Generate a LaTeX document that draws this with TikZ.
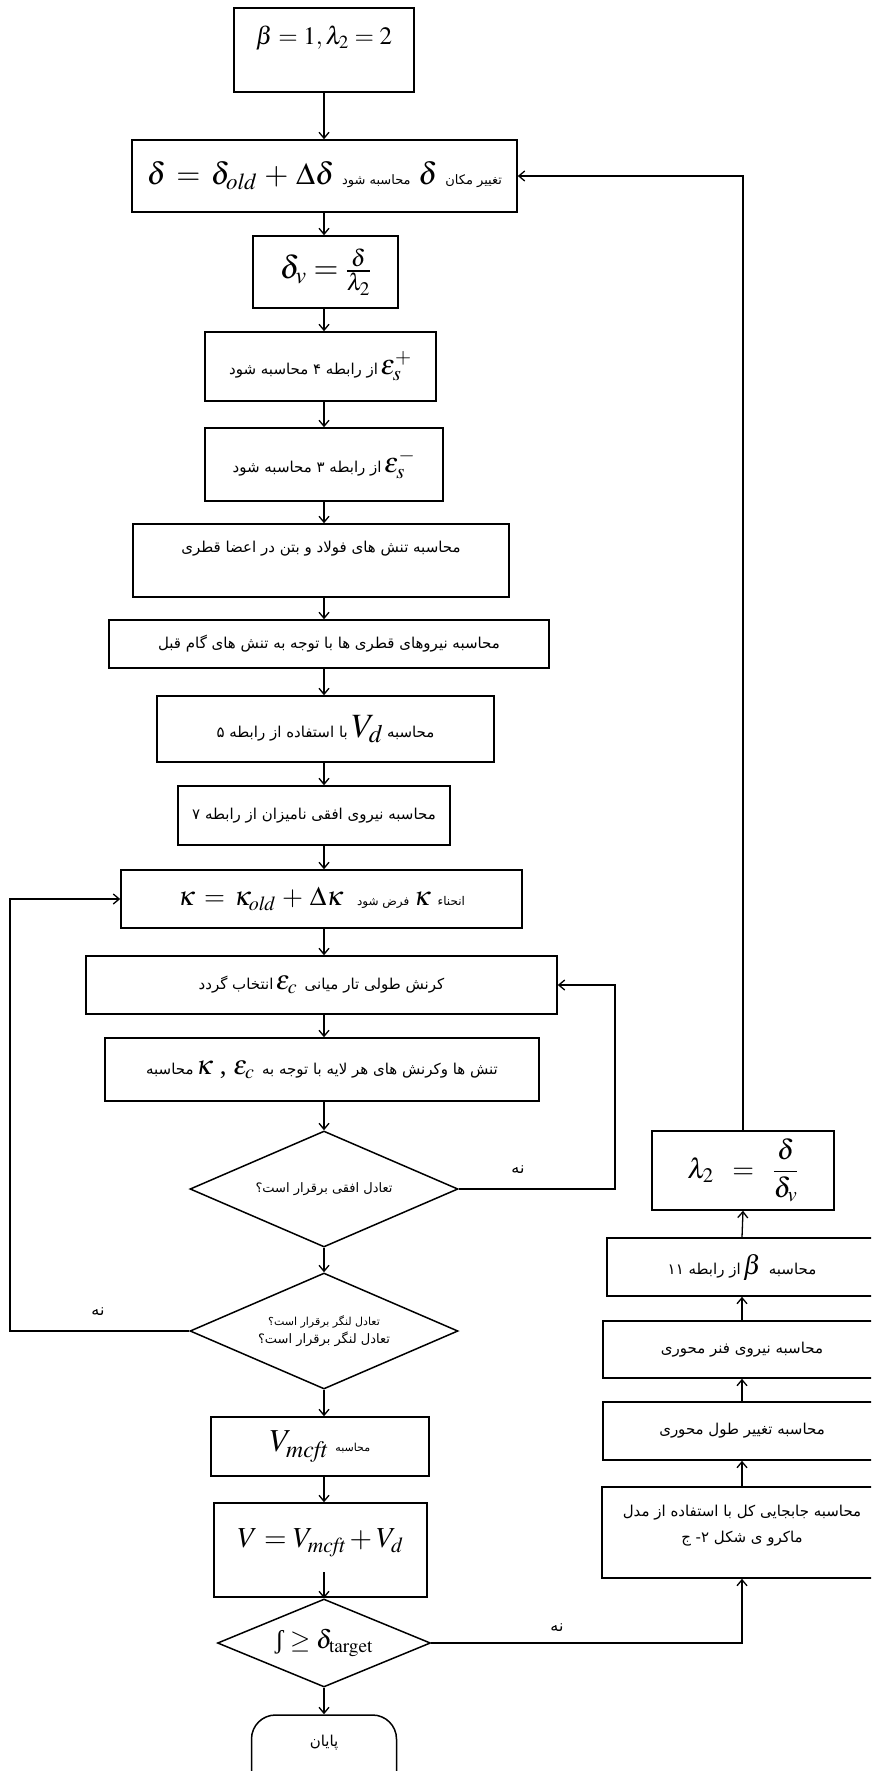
\documentclass[tikz,border=0pt]{standalone}
\usepackage{mathptmx}
\usepackage[no-math]{fontspec}
\setmainfont{Liberation Serif}
\newfontfamily\fafont[Script=Arabic]{DejaVu Sans}
\TeXXeTstate=1
\usetikzlibrary{arrows.meta,shapes.geometric}
\newcommand{\fatext}[1]{{\fafont\beginR #1\endR}}
\newcommand{\msz}[1]{\fontsize{#1}{#1}\selectfont}
\begin{document}
\begin{tikzpicture}[x=1pt,y=-1pt,
  box/.style={draw, line width=1.5pt, inner sep=0pt, align=center, font=\msz{15}},
  dia/.style={draw, diamond, line width=1.5pt, inner sep=0pt, align=center, font=\msz{13}},
  arr/.style={line width=1.3pt, -{Straight Barb[length=6pt,width=10pt,line width=1.3pt]}},
  txt/.style={inner sep=0pt, align=center, font=\msz{15}},
]
\useasboundingbox (0,0) rectangle (871,1771);
\clip (0,0) rectangle (871,1771);
\fill[white] (0,0) rectangle (871,1771);
\coordinate (mx) at (324,0);
\coordinate (ll) at (10,0);
\coordinate (rl) at (615,0);

% main column
\node[box, minimum width=180pt, minimum height=84pt] (b1) at (324,50) {};
\node[txt] (t1) at (324,38) {\msz{25}$\beta = 1, \lambda_2 = 2$};

\node[box, minimum width=385pt, minimum height=72pt] (b2) at (324.5,176)
  {\msz{31}$\delta \,=\, \delta_{\mathit{old}} \,+\, \Delta\delta$\ {\msz{13}\fatext{محاسبه شود}}\ $\delta$\ {\msz{13}\fatext{تغییر مکان}}};

\node[box, minimum width=145pt, minimum height=72pt] (b3) at (325.5,272)
  {\msz{32}$\delta_v = \frac{\delta}{\lambda_2}$};

\node[box, minimum width=231pt, minimum height=69pt] (b4) at (320.5,366.5)
  {\fatext{از رابطه ۴ محاسبه شود}\,{\msz{28}$\varepsilon_s^{+}$}};

\node[box, minimum width=238pt, minimum height=73pt] (b5) at (324,464.5)
  {\fatext{از رابطه ۳ محاسبه شود}\,{\msz{28}$\varepsilon_s^{-}$}};

\node[box, minimum width=376pt, minimum height=73pt] (b6) at (321,560.5) {};
\node[txt] (t6) at (321,549) {\fatext{محاسبه تنش های فولاد و بتن در اعضا قطری}};

\node[box, minimum width=440pt, minimum height=48pt] (b7) at (329,644)
  {\fatext{محاسبه نیروهای قطری ها با توجه به تنش های گام قبل}};

\node[box, minimum width=337pt, minimum height=66pt] (b8) at (325.5,729)
  {\fatext{با استفاده از رابطه ۵}\ {\msz{34}$V_d$}\ \fatext{محاسبه}};

\node[box, minimum width=272pt, minimum height=59pt] (b9) at (314,815.5)
  {\fatext{محاسبه نیروی افقی نامیزان از رابطه ۷}};

\node[box, minimum width=401pt, minimum height=58pt] (b10) at (321.5,899)
  {\msz{27}$\kappa \,=\, \kappa_{\mathit{old}} \,+\, \Delta\kappa$\ \ {\msz{12}\fatext{فرض شود}}\,$\kappa$\ {\msz{12}\fatext{انحناء}}};

\node[box, minimum width=471pt, minimum height=58pt] (b11) at (321.5,985)
  {\fatext{انتخاب گردد}\,{\msz{27}$\varepsilon_c$}\ \ \fatext{کرنش طولی تار میانی}};

\node[box, minimum width=434pt, minimum height=63pt] (b12) at (322,1069.5)
  {\fatext{محاسبه}\,{\msz{27}$\kappa$\ ,\ $\varepsilon_c$}\ \ \fatext{تنش ها وکرنش های هر لایه با توجه به}};

\node[dia, aspect=2.31, minimum width=268pt, minimum height=116pt] (d1) at (324,1189)
  {\fatext{تعادل افقی برقرار است؟}};

\node[dia, aspect=2.31, minimum width=268pt, minimum height=116pt] (d2) at (324,1331)
  {{\msz{11}\fatext{تعادل لنگر برقرار است؟}}\\[3pt]{\msz{13}\fatext{تعادل لنگر برقرار است؟}}};

\node[box, minimum width=218pt, minimum height=59pt] (b13) at (320,1446.5)
  {{\msz{32}$V_{\mathit{mcft}}$}\ \ {\msz{11}\fatext{محاسبه}}};

\node[box, minimum width=213pt, minimum height=94pt] (b14) at (320.5,1550) {};
\node[txt] (t14) at (320.5,1543) {\msz{29}$V = V_{\mathit{mcft}} + V_d$};
\coordinate (b14s) at (324,1572);

\node[dia, aspect=2.42, minimum width=213pt, minimum height=88pt] (d3) at (324,1643)
  {\msz{26}ʃ $\geq \delta_{\mathrm{target}}$};

\node[draw, line width=1.5pt, rounded corners=24pt, minimum width=145pt, minimum height=110pt] (end) at (324,1770) {};
\node[txt] (tend) at (324,1743) {\fatext{پایان}};

% right column
\node[box, minimum width=182pt, minimum height=79pt] (r1) at (743,1170.5)
  {\msz{28}$\lambda_2 \;\;=\;\; \displaystyle\frac{\delta}{\delta_v}$};
\node[box, minimum width=270pt, minimum height=58pt] (r2) at (742,1267)
  {\fatext{از رابطه ۱۱}\,{\msz{27}$\beta$}\ \ \fatext{محاسبه}};
\node[box, minimum width=278pt, minimum height=57pt] (r3) at (742,1349.5)
  {\fatext{محاسبه نیروی فنر محوری}};
\node[box, minimum width=278pt, minimum height=58pt] (r4) at (742,1431)
  {\fatext{محاسبه تغییر طول محوری}};
\node[box, minimum width=280pt, minimum height=91pt] (r5) at (742,1532.5) {};
\node[txt] (t5) at (742,1526) {\fatext{محاسبه جابجایی کل با استفاده از مدل}\\[10pt]\fatext{ماکرو ی شکل ۲- ج}};

% labels
\node[txt, font=\msz{16}] (no1) at (518,1170) {\fatext{نه}};
\node[txt, font=\msz{16}] (no2) at (98,1312) {\fatext{نه}};
\node[txt, font=\msz{16}] (no3) at (557,1628) {\fatext{نه}};

% main arrows
\draw[arr] (b1.south -| mx) -- (b2.north -| mx);
\draw[arr] (b2.south -| mx) -- (b3.north -| mx);
\draw[arr] (b3.south -| mx) -- (b4.north -| mx);
\draw[arr] (b4.south -| mx) -- (b5.north -| mx);
\draw[arr] (b5.south -| mx) -- (b6.north -| mx);
\draw[arr] (b6.south -| mx) -- (b7.north -| mx);
\draw[arr] (b7.south -| mx) -- (b8.north -| mx);
\draw[arr] (b8.south -| mx) -- (b9.north -| mx);
\draw[arr] (b9.south -| mx) -- (b10.north -| mx);
\draw[arr] (b10.south -| mx) -- (b11.north -| mx);
\draw[arr] (b11.south -| mx) -- (b12.north -| mx);
\draw[arr] (b12.south -| mx) -- (d1.north);
\draw[arr] (d1.south) -- (d2.north);
\draw[arr] (d2.south) -- (b13.north -| mx);
\draw[arr] (b13.south -| mx) -- (b14.north -| mx);
\draw[arr] (b14s) -- (d3.north);
\draw[arr] (d3.south) -- (end.north);

% loops
\draw[arr] (d1.east) -- (d1.east -| rl) |- (b11.east);
\draw[arr] (d2.west) -- (d2.west -| ll) |- (b10.west);
\draw[arr] (d3.east) -| (r5.south);
\draw[arr] (r5.north) -- (r4.south);
\draw[arr] (r4.north) -- (r3.south);
\draw[arr] (r3.north) -- (r2.south);
\draw[arr] (r2.north) -- (r1.south);
\draw[arr] (r1.north) |- (b2.east);
\end{tikzpicture}
\end{document}
